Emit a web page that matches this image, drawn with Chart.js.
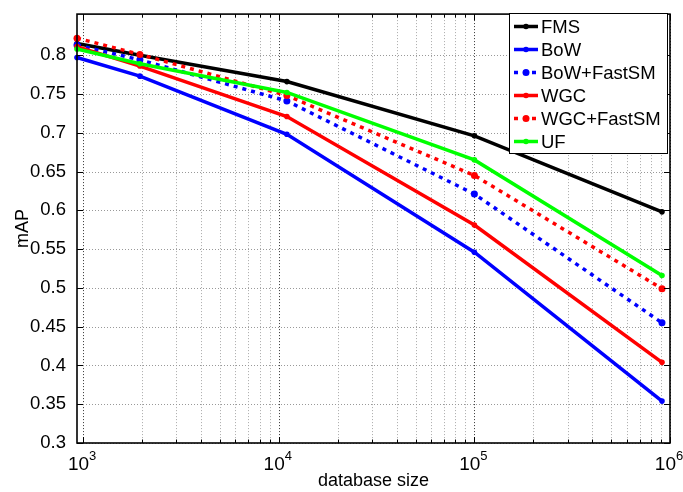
<!DOCTYPE html>
<html>
<head>
<meta charset="UTF-8">
<title>mAP - database size</title>
<script src="https://cdn.jsdelivr.net/npm/chart.js@4.4.0/dist/chart.umd.min.js"></script>
<style>
  html, body { margin: 0; padding: 0; background: #fff; }
  #holder { width: 683px; height: 492px; }
</style>
</head>
<body>
<div id="holder"><canvas id="chart-area"></canvas></div>
<script>
// data
var dbSize   = [930, 1950, 11000, 100000, 910000];
var fms      = [0.815, 0.800, 0.766, 0.696, 0.598];
var bow      = [0.797, 0.773, 0.698, 0.546, 0.354];
var bowFast  = [0.813, 0.794, 0.741, 0.621, 0.455];
var wgc      = [0.811, 0.786, 0.721, 0.581, 0.404];
var wgcFast  = [0.822, 0.801, 0.748, 0.645, 0.499];
var uf       = [0.808, 0.789, 0.752, 0.665, 0.516];

var seriesNames  = ['FMS', 'BoW', 'BoW+FastSM', 'WGC', 'WGC+FastSM', 'UF'];
var yTicks       = [0.3, 0.35, 0.4, 0.45, 0.5, 0.55, 0.6, 0.65, 0.7, 0.75, 0.8];
var xDecades     = [1000, 10000, 100000, 1000000];
var xExponents   = ['3', '4', '5', '6'];

var FONT = '"Liberation Sans", Arial, Helvetica, sans-serif';

function pts(ys) {
    return ys.map(function (y, i) { return { x: dbSize[i], y: y }; });
}

function line(name, ys, color, dotted, order) {
    return {
        label: name,
        data: pts(ys),
        borderColor: color,
        backgroundColor: color,
        borderWidth: 3.5,
        borderDash: dotted ? [4, 5] : [],
        pointRadius: dotted ? 3.5 : 2.8,
        pointBorderWidth: 0,
        pointStyle: 'circle',
        tension: 0,
        clip: false,
        order: order
    };
}

// all 1..9 x 10^n positions for the log axis
var xAllTicks = [];
xDecades.forEach(function (d, i) {
    if (i === xDecades.length - 1) { xAllTicks.push(d); return; }
    for (var k = 1; k <= 9; k++) xAllTicks.push(d * k);
});

var matlabAxes = {
    id: 'matlabAxes',
    beforeDatasetsDraw: function (chart) {
        var c = chart.ctx, a = chart.chartArea;
        var xs = chart.scales.x, ys = chart.scales.y;
        c.save();
        c.lineWidth = 1;
        c.setLineDash([1, 2]);
        xAllTicks.forEach(function (v) {
            var px = Math.round(xs.getPixelForValue(v)) + 0.5;
            c.strokeStyle = xDecades.indexOf(v) >= 0 ? '#333' : '#aaa';
            c.beginPath(); c.moveTo(px, a.top); c.lineTo(px, a.bottom); c.stroke();
        });
        c.strokeStyle = '#999';
        yTicks.forEach(function (v) {
            var py = Math.round(ys.getPixelForValue(v)) + 0.5;
            c.beginPath(); c.moveTo(a.left, py); c.lineTo(a.right, py); c.stroke();
        });
        c.restore();
    },
    afterDatasetsDraw: function (chart) {
        var c = chart.ctx, a = chart.chartArea;
        var xs = chart.scales.x, ys = chart.scales.y;
        c.save();
        c.strokeStyle = '#000';
        c.lineWidth = 1;
        xAllTicks.forEach(function (v) {
            var px = Math.round(xs.getPixelForValue(v)) + 0.5;
            var len = xDecades.indexOf(v) >= 0 ? 6 : 3.5;
            c.beginPath();
            c.moveTo(px, a.bottom); c.lineTo(px, a.bottom - len);
            c.moveTo(px, a.top); c.lineTo(px, a.top + len);
            c.stroke();
        });
        yTicks.forEach(function (v) {
            var py = Math.round(ys.getPixelForValue(v)) + 0.5;
            c.beginPath();
            c.moveTo(a.left, py); c.lineTo(a.left + 6, py);
            c.moveTo(a.right, py); c.lineTo(a.right - 6, py);
            c.stroke();
        });
        c.lineWidth = 1.6;
        c.strokeRect(a.left, a.top, a.right - a.left, a.bottom - a.top);

        // decade labels 10^n with a raised exponent
        c.fillStyle = '#000';
        c.textBaseline = 'alphabetic';
        c.textAlign = 'left';
        xDecades.forEach(function (v, i) {
            var px = xs.getPixelForValue(v);
            c.font = '19px ' + FONT;
            var wBase = c.measureText('10').width;
            c.font = '13px ' + FONT;
            var wExp = c.measureText(xExponents[i]).width;
            var x0 = px - (wBase + wExp) / 2 - 1;
            c.font = '19px ' + FONT;
            c.fillText('10', x0, a.bottom + 27);
            c.font = '13px ' + FONT;
            c.fillText(xExponents[i], x0 + wBase, a.bottom + 17);
        });
        c.restore();
    },
    afterDraw: function (chart) {
        var c = chart.ctx;
        var bx = 509, by = 13, bw = 158, bh = 140, row = 23;
        c.save();
        c.fillStyle = '#fff';
        c.fillRect(bx, by, bw, bh);
        c.strokeStyle = '#000';
        c.lineWidth = 1;
        c.strokeRect(bx + 0.5, by + 0.5, bw, bh);
        c.font = '18.5px ' + FONT;
        c.textBaseline = 'middle';
        chart.data.datasets.forEach(function (ds, i) {
            var y = by + 13.5 + i * row;
            c.strokeStyle = ds.borderColor;
            c.fillStyle = ds.borderColor;
            c.lineWidth = 3.5;
            c.setLineDash(ds.borderDash);
            c.beginPath(); c.moveTo(514, y); c.lineTo(538, y); c.stroke();
            c.setLineDash([]);
            c.beginPath(); c.arc(526, y, ds.pointRadius, 0, Math.PI * 2); c.fill();
            c.fillStyle = '#000';
            c.fillText(ds.label, 541, y + 1);
        });
        c.restore();
    }
};

var config = {
    type: 'line',
    data: {
        datasets: [
            line(seriesNames[0], fms,     '#000000', false, 5),
            line(seriesNames[1], bow,     '#0000ff', false, 4),
            line(seriesNames[2], bowFast, '#0000ff', true,  3),
            line(seriesNames[3], wgc,     '#ff0000', false, 2),
            line(seriesNames[4], wgcFast, '#ff0000', true,  1),
            line(seriesNames[5], uf,      '#00ff00', false, 0)
        ]
    },
    options: {
        responsive: false,
        animation: false,
        devicePixelRatio: 1,
        layout: { autoPadding: false, padding: { left: 0, right: 13, top: 9, bottom: 0 } },
        plugins: { legend: { display: false }, tooltip: { enabled: false } },
        scales: {
            x: {
                type: 'logarithmic',
                min: 930,
                max: 1000000,
                afterBuildTicks: function (s) {
                    s.ticks = xAllTicks.map(function (v) { return { value: v }; });
                },
                afterFit: function (s) { s.height = 49; },
                grid: { display: false },
                border: { display: false },
                ticks: {
                    autoSkip: false,
                    maxRotation: 0,
                    callback: function () { return ''; }
                },
                title: {
                    display: true,
                    text: 'database size',
                    color: '#000',
                    font: { family: FONT, size: 18 },
                    padding: { top: 0, bottom: 0 }
                }
            },
            y: {
                type: 'linear',
                min: 0.3,
                max: 0.853,
                afterBuildTicks: function (s) {
                    s.ticks = yTicks.map(function (v) { return { value: v }; });
                },
                afterFit: function (s) { s.width = 77; },
                grid: { display: false },
                border: { display: false },
                ticks: {
                    padding: 3,
                    color: '#000',
                    font: { family: FONT, size: 18.5 },
                    callback: function (v) { return String(v); }
                },
                title: {
                    display: true,
                    text: 'mAP',
                    color: '#000',
                    font: { family: FONT, size: 18 },
                    padding: { top: 12, bottom: 0 }
                }
            }
        }
    },
    plugins: [matlabAxes]
};

var ctx = document.getElementById('chart-area');
ctx.width = 683;
ctx.height = 492;
window.myLine = new Chart(ctx, config);
</script>
</body>
</html>
